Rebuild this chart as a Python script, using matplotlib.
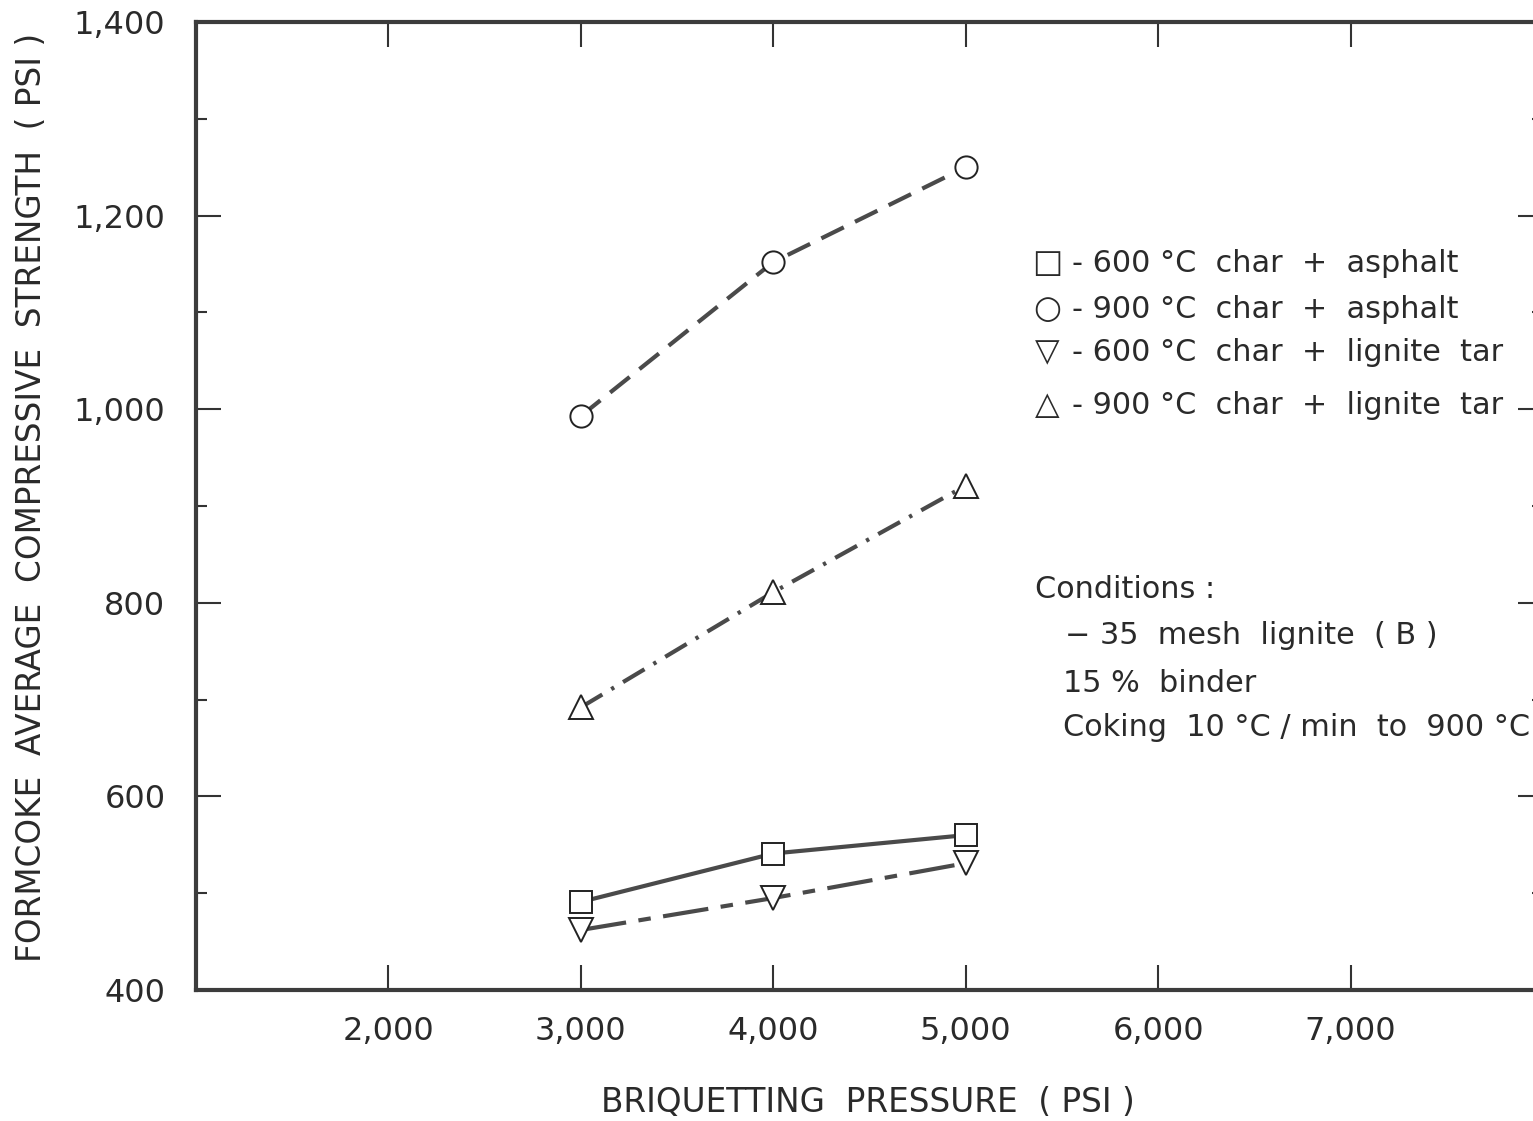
import matplotlib
matplotlib.use("Agg")
import matplotlib.pyplot as plt
from matplotlib.ticker import FixedLocator, FuncFormatter

plt.rcParams['font.family'] = ['DejaVu Sans']

# ---- data ----
pressure = [3000, 4000, 5000]
char600_asphalt = [491, 541, 560]
char900_asphalt = [993, 1152, 1250]
char600_tar = [462, 495, 531]
char900_tar = [692, 811, 921]

x_ticks = [2000, 3000, 4000, 5000, 6000, 7000]
y_major = [400, 600, 800, 1000, 1200, 1400]
y_minor = [500, 700, 900, 1100, 1300]

legend_symbols = ["\u25a1", "\u25cb", "\u25bd", "\u25b3"]
legend_labels = ["- 600 \u00b0C  char  +  asphalt",
                 "- 900 \u00b0C  char  +  asphalt",
                 "- 600 \u00b0C  char  +  lignite  tar",
                 "- 900 \u00b0C  char  +  lignite  tar"]
conditions = ["Conditions :",
              "\u2212 35  mesh  lignite  ( B )",
              "15 %  binder",
              "Coking  10 \u00b0C / min  to  900 \u00b0C"]

W, H = 1533, 1121
fig = plt.figure(figsize=(W / 100, H / 100), dpi=100)
fig.patch.set_facecolor('white')
ax = fig.add_axes([196 / W, 1 - 990 / H, 1347 / W, 968 / H])
ax.set_xlim(1000, 8000)
ax.set_ylim(400, 1400)

line_col = '#4a4a4a'
txt_col = '#2a2a2a'
lw = 3.0
mk = dict(markerfacecolor='white', markeredgecolor='#222222', markeredgewidth=1.4)

ax.plot(pressure, char600_asphalt, color=line_col, lw=lw, ls='-', marker='s', ms=16, **mk, zorder=3)
ax.plot(pressure, char900_asphalt, color=line_col, lw=lw, ls=(0, (6, 3)), marker='o', ms=16, **mk, zorder=3)
ax.plot(pressure, char600_tar, color=line_col, lw=lw, ls=(0, (11, 3, 3, 3)), marker='v', ms=17, **mk, zorder=3)
ax.plot(pressure, char900_tar, color=line_col, lw=lw, ls=(0, (6, 2.5, 0.8, 2.5)), marker='^', ms=17, **mk, zorder=3)

for s in ax.spines.values():
    s.set_linewidth(3.0)
    s.set_color('#3c3c3c')

ax.xaxis.set_major_locator(FixedLocator(x_ticks))
ax.yaxis.set_major_locator(FixedLocator(y_major))
ax.yaxis.set_minor_locator(FixedLocator(y_minor))
ax.xaxis.set_major_formatter(FuncFormatter(lambda v, p: f"{int(v):,}"))
ax.yaxis.set_major_formatter(FuncFormatter(lambda v, p: f"{int(v):,}"))
ax.tick_params(axis='both', which='major', direction='in', length=18, width=1.5,
               color='#333333', labelsize=23, labelcolor=txt_col,
               top=True, right=True)
ax.tick_params(axis='y', which='minor', direction='in', length=8, width=1.5,
               color='#333333', left=True, right=True)
ax.tick_params(axis='x', which='major', pad=19)
ax.tick_params(axis='y', which='major', pad=22)

fig.text(868 / W, 1 - 1103 / H, "BRIQUETTING  PRESSURE  ( PSI )", ha='center', va='center',
         fontsize=23.5, color=txt_col)
fig.text(32 / W, 1 - 497 / H, "FORMCOKE  AVERAGE  COMPRESSIVE  STRENGTH  ( PSI )",
         ha='center', va='center', rotation=90, fontsize=23.5, color=txt_col)

leg_y = [263, 310, 353, 406]
for sym, lab, yy in zip(legend_symbols, legend_labels, leg_y):
    fig.text(1047 / W, 1 - yy / H, sym, ha='center', va='center', fontsize=23, color=txt_col)
    fig.text(1072 / W, 1 - yy / H, lab, ha='left', va='center', fontsize=21.8, color=txt_col)

cond_y = [590, 635, 684, 728]
cond_x = [1035, 1065, 1063, 1063]
for lab, xx, yy in zip(conditions, cond_x, cond_y):
    fig.text(xx / W, 1 - yy / H, lab, ha='left', va='center', fontsize=21.8, color=txt_col)

fig.savefig("out.png", dpi=100, facecolor='white')
